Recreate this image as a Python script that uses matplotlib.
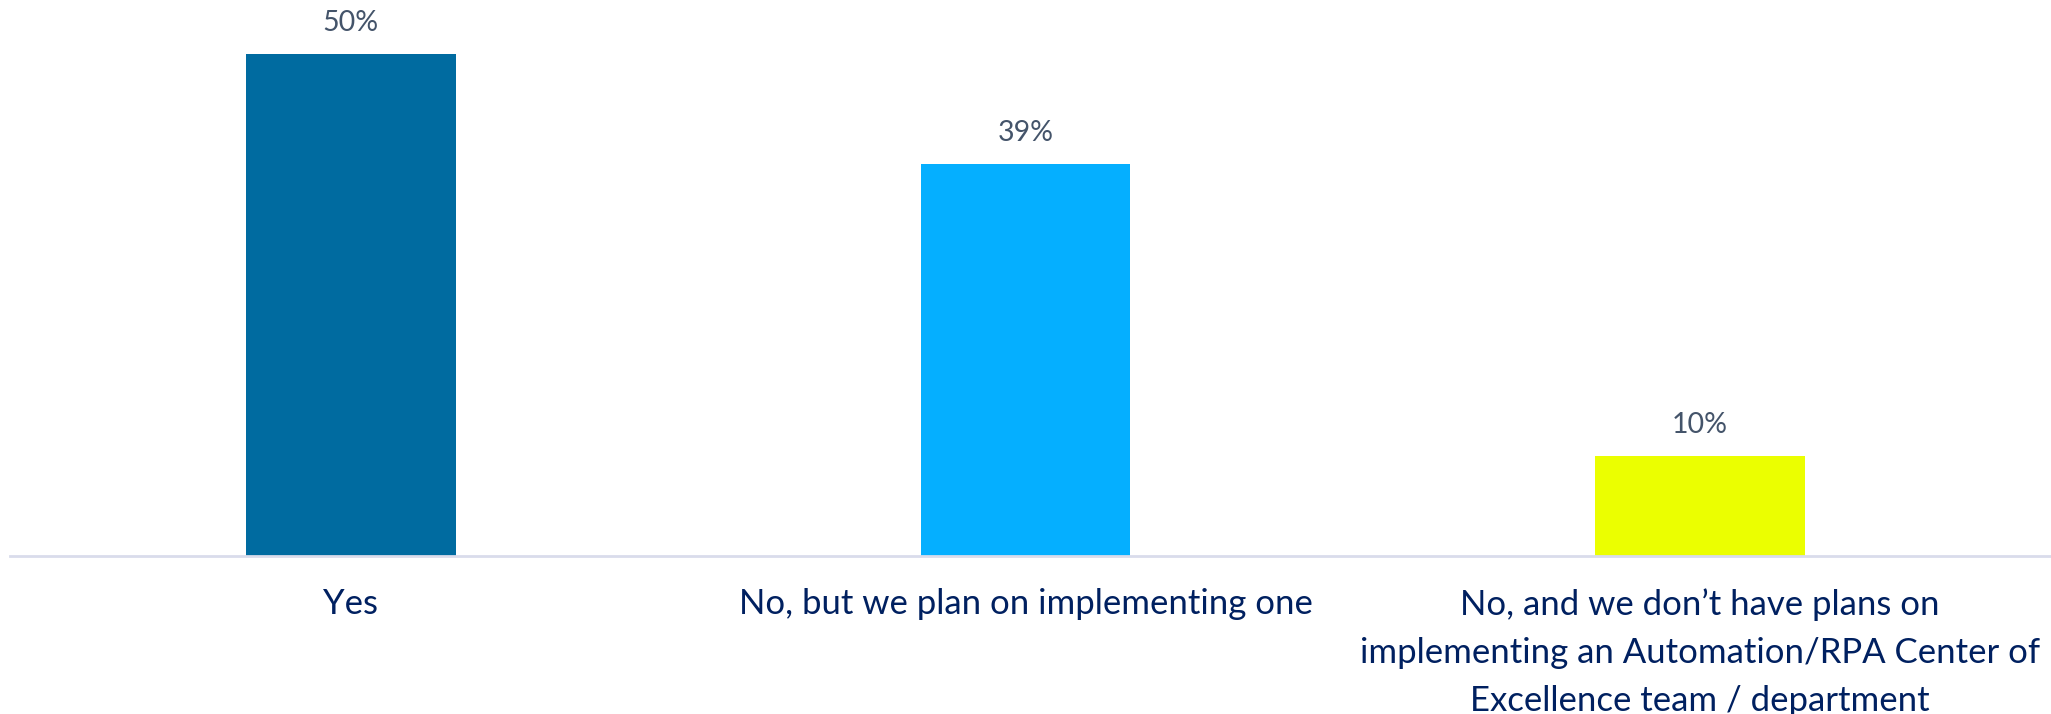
import matplotlib
matplotlib.use("Agg")
import matplotlib.pyplot as plt

categories = [
    "Yes",
    "No, but we plan on implementing one",
    "No, and we don\u2019t have plans on\nimplementing an Automation/RPA Center of\nExcellence team / department",
]
values = [50, 39, 10]
value_labels = ["50%", "39%", "10%"]
bar_colors = ["#006BA0", "#05AFFF", "#EBFF00"]

plt.rcParams["font.family"] = ["Lato", "DejaVu Sans"]

fig = plt.figure(figsize=(20.51, 7.14), dpi=100)
ax = fig.add_axes([10 / 2051, 1 - 556 / 714, (2051 - 10) / 2051, (556 - 54) / 714])

x = range(len(categories))
bars = ax.bar(x, values, width=0.311, color=bar_colors, zorder=2)
ax.set_xlim(-0.505, 2.52)
ax.set_ylim(0, 50)

for rect, lab in zip(bars, value_labels):
    ax.annotate(lab, (rect.get_x() + rect.get_width() / 2, rect.get_height()),
                xytext=(0, 13), textcoords="offset points",
                ha="center", va="bottom", fontsize=20.5, color="#44546A")

for spine in ["top", "right", "left"]:
    ax.spines[spine].set_visible(False)
ax.spines["bottom"].set_color("#D9DCEB")
ax.spines["bottom"].set_linewidth(2)
ax.set_yticks([])
ax.set_xticks(list(x))
ax.set_xticklabels(categories, fontsize=25, color="#002060", linespacing=1.63, va="top")
ax.tick_params(axis="x", length=0, pad=23)

fig.savefig("out.png", dpi=100, facecolor="white")
